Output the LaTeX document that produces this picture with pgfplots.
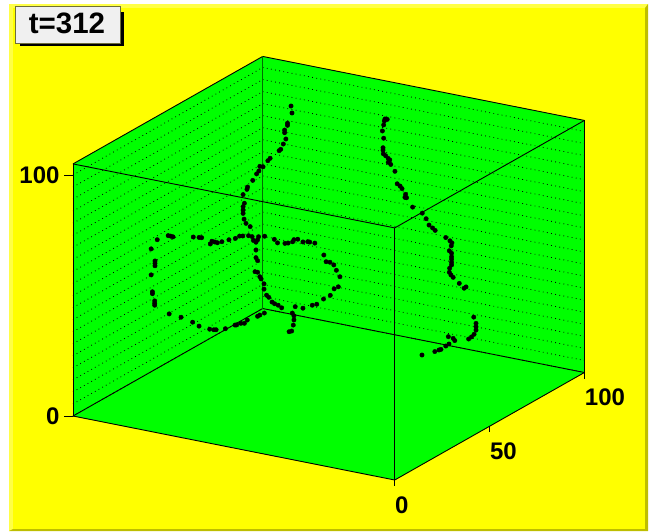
\documentclass[border=0pt]{standalone}
\usepackage{fontspec}
\setmainfont{Liberation Sans}
\usepackage{pgfplots}
\usepackage{pgfplotstable}
\pgfplotsset{compat=1.18}

\definecolor{bgyellow}{RGB}{255,255,0}
\definecolor{wallgreen}{RGB}{0,255,0}
\definecolor{edgelight}{RGB}{255,255,70}
\definecolor{edgedark}{RGB}{190,190,0}
\definecolor{backedge}{RGB}{0,110,0}
\definecolor{labelbox}{RGB}{240,240,240}
\definecolor{labelframe}{RGB}{110,110,60}

% cloud points, left loop (plane y=40)
\pgfplotstableread{
x y z
2.6 40 56.0
6.0 40 58.6
6.8 40 58.6
7.5 40 58.5
13.8 40 60.1
15.6 40 60.4
16.4 40 60.5
19.1 40 58.6
19.6 40 59.9
20.5 40 59.8
21.3 40 59.7
22.7 40 60.5
0.7 40 51.7
1.9 40 47.0
1.9 40 46.0
1.9 40 45.0
0.7 40 40.9
1.1 40 34.0
1.1 40 33.2
1.8 40 30.4
1.8 40 29.4
1.8 40 28.6
6.3 40 26.2
10.0 40 25.8
13.6 40 24.7
15.6 40 23.6
18.9 40 23.2
20.2 40 23.3
20.9 40 23.5
}\loopleft

% cloud points, everything else (plane y=80)
\pgfplotstableread{
x y z
0.2 80 0.6
3.2 80 2.9
3.7 80 3.1
5.0 80 4.1
6.1 80 4.4
7.0 80 6.0
10.2 80 8.4
10.9 80 9.1
12.3 80 10.3
1.3 80 37.8
3.3 80 38.9
4.6 80 40.2
5.6 80 40.5
7.4 80 41.1
8.5 80 41.0
8.9 80 39.6
9.7 80 39.0
10.2 80 40.1
10.5 80 41.5
12.4 80 42.2
15.4 80 41.7
16.4 80 40.5
18.7 80 40.9
19.7 80 41.3
21.1 80 42.2
21.5 80 43.2
22.7 80 43.7
24.3 80 43.0
25.8 80 43.5
26.4 80 43.5
28.0 80 43.5
30.8 80 39.3
31.5 80 36.7
32.7 80 36.8
33.9 80 36.0
34.7 80 34.0
35.8 80 31.6
35.3 80 27.3
34.0 80 26.1
32.8 80 23.1
30.7 80 21.0
28.6 80 18.3
27.2 80 17.5
24.3 80 15.5
21.9 80 15.5
17.7 80 13.9
16.6 80 14.7
15.5 80 15.0
14.7 80 15.5
13.7 80 17.2
13.0 80 17.9
12.2 80 20.2
12.2 80 22.4
11.3 80 24.2
10.9 80 25.0
10.2 80 26.7
9.4 80 26.7
10.2 80 31.5
9.7 80 32.6
9.7 80 35.8
21.0 80 12.6
21.5 80 11.6
21.5 80 9.9
21.3 80 7.7
20.8 80 5.1
20.0 80 4.6
20.6 80 98.4
20.9 80 95.6
19.5 80 91.0
19.5 80 90.1
18.6 80 87.9
18.6 80 86.8
19.0 80 84.3
18.2 80 82.0
17.4 80 79.6
16.9 80 78.9
14.1 80 75.0
13.4 80 73.8
11.9 80 70.9
10.9 80 70.8
10.6 80 68.8
9.9 80 67.4
8.7 80 64.4
7.1 80 61.2
6.9 80 60.2
5.7 80 57.7
6.1 80 54.2
5.7 80 52.7
5.7 80 51.3
5.7 80 49.9
6.0 80 47.6
6.6 80 46.0
7.9 80 45.0
50.5 80 100.8
49.8 80 100.8
49.6 80 99.9
49.4 80 98.2
49.0 80 95.6
49.4 80 92.7
49.2 80 88.7
49.2 80 87.7
49.3 80 86.2
50.0 80 85.6
50.8 80 84.7
51.3 80 84.2
50.8 80 83.1
51.6 80 82.4
52.9 80 79.9
53.6 80 74.9
54.5 80 74.2
55.1 80 73.3
56.2 80 71.2
56.5 80 69.9
56.0 80 69.9
58.4 80 66.5
61.4 80 64.8
62.6 80 62.8
63.5 80 60.4
64.6 80 59.5
65.4 80 58.7
68.7 80 56.6
70.0 80 55.6
70.6 80 54.9
70.4 80 53.6
69.8 80 51.4
70.5 80 50.6
70.5 80 49.1
70.5 80 48.1
70.5 80 46.8
70.5 80 45.7
69.9 80 44.2
69.8 80 42.5
70.3 80 41.5
71.0 80 40.7
72.9 80 38.7
74.4 80 37.1
75.0 80 37.8
77.4 80 25.9
78.1 80 23.5
78.1 80 22.1
78.1 80 20.7
77.5 80 18.8
76.7 80 17.5
75.8 80 16.4
69.5 80 15.7
71.0 80 15.4
71.5 80 14.6
69.7 80 12.7
68.7 80 11.6
67.2 80 9.8
66.6 80 9.4
65.3 80 8.4
61.3 80 5.9
}\loopmain

\pgfplotsset{boxaxis/.style={
    at={(0,0)}, anchor=origin, disabledatascaling,
    x={(3.217pt,-0.64pt)}, y={(1.897pt,1.075pt)}, z={(0pt,2.41pt)},
    xmin=0, xmax=100, ymin=0, ymax=100, zmin=0, zmax=104.6,
    clip=false,
}}

\begin{document}
\begin{tikzpicture}
% page furniture in picture pixels
\begin{scope}[x=1pt,y=-1pt,xshift=-73pt,yshift=416pt]
  \path[use as bounding box] (0,0) rectangle (652,531);
  \fill[edgelight] (9,4) rectangle (648,531);
  \fill[edgedark] (645,8) -- (648,4) -- (648,531) -- (9,531) -- (13,529) -- (645,529) -- cycle;
  \fill[bgyellow] (13,8) rectangle (645,529);
\end{scope}

% green walls and floor
\begin{axis}[boxaxis, hide axis]
\addplot3[fill=wallgreen, draw=none] coordinates {(0,0,0) (100,0,0) (100,100,0) (0,100,0)};
\addplot3[fill=wallgreen, draw=none] coordinates {(0,0,0) (0,100,0) (0,100,104.6) (0,0,104.6)};
\addplot3[fill=wallgreen, draw=none] coordinates {(0,100,0) (100,100,0) (100,100,104.6) (0,100,104.6)};
\end{axis}

% box, grid, ticks, points
\begin{axis}[boxaxis,
    3d box=complete,
    axis line style={black, line width=0.9pt},
    xtick=\empty,
    ytick={0,50,100},
    ztick={0,100},
    minor ztick={5,10,...,95},
    zmajorgrids, zminorgrids,
    major grid style={black, line width=0.8pt, dash pattern=on 0.8pt off 3.4pt},
    minor grid style={black, line width=0.8pt, dash pattern=on 0.8pt off 3.4pt},
    major tick length=0pt, minor tick length=0pt,
    /pgf/number format/assume math mode=true,
    tick label style={font=\fontsize{24}{24}\selectfont\bfseries},
    yticklabel style={anchor=north west, xshift=-3pt, yshift=-13pt},
    zticklabel style={anchor=east, xshift=-10pt},
]
\addplot3[color=backedge, line width=1.2pt] coordinates {(0,100,0) (0,100,104.6)};
\addplot3[only marks, mark=*, mark size=2.2pt, color=black] table[x=x,y=y,z=z] {\loopleft};
\addplot3[only marks, mark=*, mark size=2.2pt, color=black] table[x=x,y=y,z=z] {\loopmain};
% ticks
\draw[black, line width=0.9pt] (axis cs:0,0,0) -- ++(-9pt,0pt);
\draw[black, line width=0.9pt] (axis cs:0,0,100) -- ++(-9pt,0pt);
\draw[black, line width=0.9pt] (axis cs:100,0,0) -- ++(0pt,-6pt);
\draw[black, line width=0.9pt] (axis cs:100,50,0) -- ++(0pt,-6pt);
\draw[black, line width=0.9pt] (axis cs:100,100,0) -- ++(0pt,-6pt);
\end{axis}

% time label
\begin{scope}[x=1pt,y=-1pt,xshift=-73pt,yshift=416pt]
  \fill[black] (20,12) rectangle (124,46);
  \filldraw[fill=labelbox, draw=labelframe, line width=0.8pt] (15,6) rectangle (120,43);
  \node[font=\fontsize{29.5}{29.5}\selectfont\bfseries, text=black] at (67,23.5) {t=312};
\end{scope}
\end{tikzpicture}
\end{document}
